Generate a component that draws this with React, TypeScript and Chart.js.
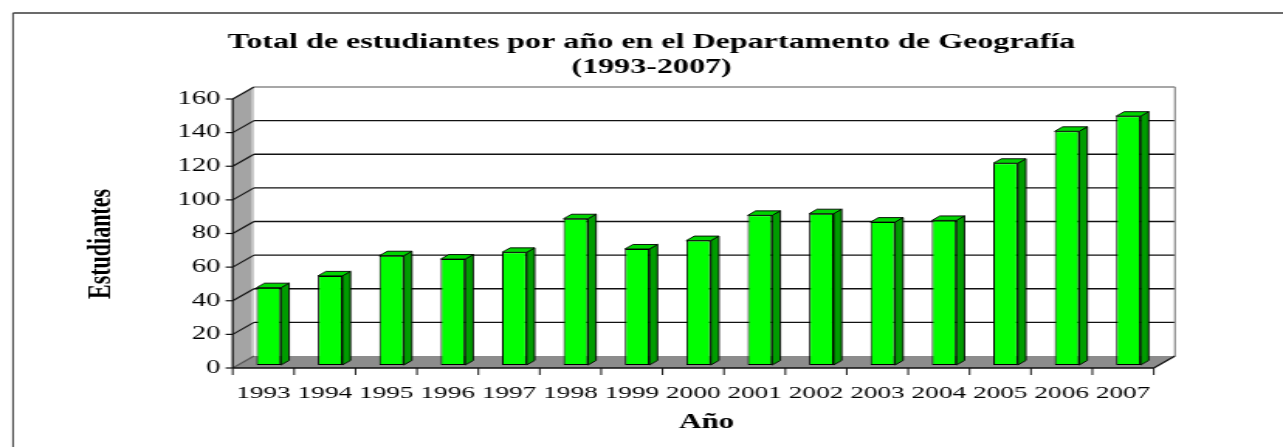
import React, { useEffect, useRef } from "react";
import { Chart, registerables } from "chart.js";

Chart.register(...registerables);

const YEARS = ["1993", "1994", "1995", "1996", "1997", "1998", "1999", "2000", "2001", "2002", "2003", "2004", "2005", "2006", "2007"];
const STUDENTS = [46, 53, 65, 63, 67, 87, 69, 74, 89, 90, 85, 86, 120, 139, 148];
const Y_TICKS = [0, 20, 40, 60, 80, 100, 120, 140, 160];
const TITLE_LINES = ["Total de estudiantes por año en el Departamento de Geografía", "(1993-2007)"];
const X_TITLE = "Año";
const Y_TITLE = "Estudiantes";

const CANVAS_W = 828;
const CANVAS_H = 447;
const VIEW_W = 1283;
const SERIF = '"Liberation Serif", "Times New Roman", serif';

// depth offsets relative to the bar front plane (logical px)
const FRONT = { dx: -3.4, dy: 3 };
const BACK = { dx: 10.3, dy: -9 };
const BAR_DEPTH = { dx: 5.2, dy: 4.5 };

function poly(ctx: CanvasRenderingContext2D, pts: number[][], fill?: string, stroke?: string, lw = 1) {
  ctx.beginPath();
  ctx.moveTo(pts[0][0], pts[0][1]);
  for (let i = 1; i < pts.length; i++) ctx.lineTo(pts[i][0], pts[i][1]);
  ctx.closePath();
  if (fill) {
    ctx.fillStyle = fill;
    ctx.fill();
  }
  if (stroke) {
    ctx.strokeStyle = stroke;
    ctx.lineWidth = lw;
    ctx.stroke();
  }
}

function line(ctx: CanvasRenderingContext2D, x1: number, y1: number, x2: number, y2: number, color: string, lw: number) {
  ctx.beginPath();
  ctx.moveTo(x1, y1);
  ctx.lineTo(x2, y2);
  ctx.strokeStyle = color;
  ctx.lineWidth = lw;
  ctx.stroke();
}

const threeDPlugin = {
  id: "threeD",
  beforeDatasetsDraw(chart: any) {
    const ctx: CanvasRenderingContext2D = chart.ctx;
    const xs = chart.scales.x;
    const ys = chart.scales.y;
    const n = YEARS.length;
    const yMax = Y_TICKS[Y_TICKS.length - 1];
    const xl = xs.getPixelForValue(-0.5);
    const xr = xs.getPixelForValue(n - 0.5);
    const top = ys.getPixelForValue(yMax);
    const bot = ys.getPixelForValue(0);
    ctx.save();
    // border of the picture
    line(ctx, 8.4, CANVAS_H + 2, 8.4, 13, "#3a3a3a", 1);
    line(ctx, 8.4, 13, CANVAS_W + 2, 13, "#3a3a3a", 1.3);
    // back wall
    ctx.fillStyle = "#ffffff";
    ctx.fillRect(xl + BACK.dx, top + BACK.dy, xr - xl, bot - top);
    // side wall
    poly(ctx, [
      [xl + FRONT.dx, top + FRONT.dy],
      [xl + BACK.dx, top + BACK.dy],
      [xl + BACK.dx, bot + BACK.dy],
      [xl + FRONT.dx, bot + FRONT.dy],
    ], "#a4a4a4");
    ctx.fillStyle = "#cfcfcf";
    ctx.fillRect(xl + BACK.dx - 1.6, top + BACK.dy, 1.6, bot - top);
    // floor
    poly(ctx, [
      [xl + FRONT.dx, bot + FRONT.dy],
      [xl + BACK.dx, bot + BACK.dy],
      [xr + BACK.dx, bot + BACK.dy],
      [xr + FRONT.dx, bot + FRONT.dy],
    ], "#8c8c8c");
    // gridlines on back wall and side wall
    for (const v of Y_TICKS) {
      const yp = ys.getPixelForValue(v);
      if (v !== 0 && v !== yMax) {
        line(ctx, xl + BACK.dx, yp + BACK.dy, xr + BACK.dx, yp + BACK.dy, "#111111", 1.4);
      }
      line(ctx, xl + FRONT.dx, yp + FRONT.dy, xl + BACK.dx, yp + BACK.dy, v === 0 ? "#555555" : "#111111", 1.1);
      // tick marks on the front axis
      line(ctx, xl + FRONT.dx - 4.6, yp + FRONT.dy, xl + FRONT.dx, yp + FRONT.dy, "#111111", 1.2);
    }
    // back wall outline
    line(ctx, xl + BACK.dx, top + BACK.dy, xr + BACK.dx, top + BACK.dy, "#8a8a8a", 1.4);
    line(ctx, xr + BACK.dx, top + BACK.dy, xr + BACK.dx, bot + BACK.dy, "#8a8a8a", 1.2);
    // front vertical axis
    line(ctx, xl + FRONT.dx, top + FRONT.dy, xl + FRONT.dx, bot + FRONT.dy, "#111111", 1.3);
    // front horizontal axis and ticks
    line(ctx, xl + FRONT.dx, bot + FRONT.dy, xr + FRONT.dx, bot + FRONT.dy, "#111111", 1.3);
    for (let i = 0; i <= n; i++) {
      const xp = xs.getPixelForValue(i - 0.5) + FRONT.dx;
      line(ctx, xp, bot + FRONT.dy, xp, bot + FRONT.dy + 7, "#111111", 1);
    }
    // right floor edge
    line(ctx, xr + FRONT.dx, bot + FRONT.dy, xr + BACK.dx, bot + BACK.dy, "#111111", 1.2);
    ctx.restore();
  },
  afterDatasetsDraw(chart: any) {
    const ctx: CanvasRenderingContext2D = chart.ctx;
    const meta = chart.getDatasetMeta(0);
    ctx.save();
    ctx.lineJoin = "round";
    for (const bar of meta.data) {
      const { x, y, base, width } = bar.getProps(["x", "y", "base", "width"], true);
      const l = x - width / 2;
      const r = x + width / 2;
      // side face
      poly(ctx, [
        [r, y],
        [r + BAR_DEPTH.dx, y - BAR_DEPTH.dy],
        [r + BAR_DEPTH.dx, base - BAR_DEPTH.dy],
        [r, base],
      ], "#009c00", "#000000", 0.9);
      // top face
      poly(ctx, [
        [l, y],
        [l + BAR_DEPTH.dx, y - BAR_DEPTH.dy],
        [r + BAR_DEPTH.dx, y - BAR_DEPTH.dy],
        [r, y],
      ], "#00d400", "#000000", 0.9);
    }
    ctx.restore();
  },
  afterDraw(chart: any) {
    const ctx: CanvasRenderingContext2D = chart.ctx;
    const xs = chart.scales.x;
    const ys = chart.scales.y;
    const xl = xs.getPixelForValue(-0.5);
    ctx.save();
    ctx.fillStyle = "#000000";
    // title
    ctx.font = `bold 20.7px ${SERIF}`;
    ctx.textAlign = "center";
    ctx.textBaseline = "middle";
    TITLE_LINES.forEach((t, i) => ctx.fillText(t, 420.5, 43 + i * 25));
    // y tick labels
    ctx.font = `18.5px ${SERIF}`;
    ctx.textAlign = "right";
    for (const v of Y_TICKS) {
      ctx.fillText(String(v), xl + FRONT.dx - 8, ys.getPixelForValue(v) + FRONT.dy);
    }
    // x tick labels
    ctx.textAlign = "center";
    ctx.font = `17.6px ${SERIF}`;
    YEARS.forEach((yr, i) => {
      ctx.fillText(yr, xs.getPixelForValue(i) + FRONT.dx, 393);
    });
    // axis titles
    ctx.font = `bold 20px ${SERIF}`;
    ctx.fillText(X_TITLE, 456, 423);
    ctx.translate(65.2, 244);
    ctx.rotate(-Math.PI / 2);
    ctx.font = `bold 22px ${SERIF}`;
    ctx.fillText(Y_TITLE, 0, 0);
    ctx.restore();
  },
};

export default function App() {
  const canvasRef = useRef<HTMLCanvasElement | null>(null);

  useEffect(() => {
    const canvas = canvasRef.current;
    if (!canvas) return;
    const chart = new Chart(canvas, {
      type: "bar",
      data: {
        labels: YEARS,
        datasets: [
          {
            label: Y_TITLE,
            data: STUDENTS,
            backgroundColor: "#00ff00",
            borderColor: "#000000",
            borderWidth: 1,
            borderSkipped: false,
            barPercentage: 0.4,
            categoryPercentage: 1,
          },
        ],
      },
      options: {
        responsive: false,
        animation: false,
        devicePixelRatio: 1,
        layout: { padding: { left: 153.6, right: CANVAS_W - 748, top: 96, bottom: CANVAS_H - 365 } },
        scales: {
          x: { display: false, offset: true },
          y: { display: false, min: 0, max: Y_TICKS[Y_TICKS.length - 1] },
        },
        plugins: {
          legend: { display: false },
          tooltip: { enabled: false },
          title: { display: false },
        },
      },
      plugins: [threeDPlugin],
    });
    return () => chart.destroy();
  }, []);

  return (
    <div style={{ position: "fixed", left: 0, top: 0, width: VIEW_W, height: CANVAS_H, background: "#ffffff" }}>
      <canvas
        ref={canvasRef}
        width={CANVAS_W}
        height={CANVAS_H}
        style={{ display: "block", width: VIEW_W + "px", height: CANVAS_H + "px" }}
      />
    </div>
  );
}
